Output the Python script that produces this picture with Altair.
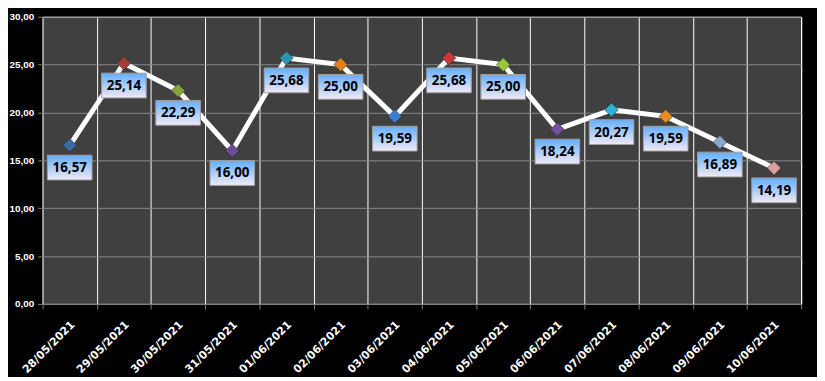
import altair as alt
import pandas as pd

dates = ["28/05/2021", "29/05/2021", "30/05/2021", "31/05/2021", "01/06/2021",
         "02/06/2021", "03/06/2021", "04/06/2021", "05/06/2021", "06/06/2021",
         "07/06/2021", "08/06/2021", "09/06/2021", "10/06/2021"]
values = [16.57, 25.14, 22.29, 16.00, 25.68, 25.00, 19.59, 25.68, 25.00, 18.24,
          20.27, 19.59, 16.89, 14.19]
marker_colors = ["#3a6aa8", "#a83a38", "#84a23c", "#6a4e98", "#2a98b4", "#e2801e",
                 "#3c7ed0", "#c83a3a", "#98c83a", "#7252a2", "#30b4d4", "#ee8a22",
                 "#8ea6c8", "#dca09c"]

df = pd.DataFrame({"date": dates, "value": values, "mcolor": marker_colors})

xenc = alt.X("date:O", sort=dates, title=None,
             scale=alt.Scale(paddingInner=0, paddingOuter=0),
             axis=alt.Axis(tickBand="extent", grid=True, gridColor="#ffffff", gridWidth=1,
                           tickColor="#808080", tickSize=5, domainColor="#808080",
                           labelAngle=-45, labelAlign="right", labelBaseline="middle",
                           labelPadding=14, labelOffset=3, labelColor="#ffffff",
                           labelFont="DejaVu Sans", labelFontWeight="bold", labelFontSize=11))
xs = alt.X("date:O", sort=dates)
yenc = alt.Y("value:Q", title=None,
             scale=alt.Scale(domain=[0, 30], nice=False, zero=True),
             axis=alt.Axis(values=[0, 5, 10, 15, 20, 25, 30], grid=True, gridColor="#8a8a8a",
                           tickColor="#808080", tickSize=5, domainColor="#808080",
                           labelColor="#ffffff", labelFont="Liberation Sans", labelFontWeight="bold",
                           labelFontSize=10, labelPadding=4,
                           labelExpr="replace(format(datum.value, '.2f'), '.', ',')"))

base = alt.Chart(df)

line = base.mark_line(color="#ffffff", strokeWidth=5).encode(x=xenc, y=yenc)
points = base.mark_point(shape="diamond", filled=True, size=190, opacity=1,
                         stroke="#222222", strokeWidth=0.5).encode(
    x=xs, y="value:Q", fill=alt.Fill("mcolor:N", scale=None))

grad = alt.LinearGradient(gradient="linear",
                          stops=[alt.GradientStop(color="#62aefc", offset=0),
                                 alt.GradientStop(color="#f2eaf6", offset=1)],
                          x1=0, x2=0, y1=0, y2=1)
boxes = base.mark_bar(width=45, color=grad, stroke="#a0a0a0", strokeWidth=1,
                      yOffset=10, y2Offset=35, opacity=1).encode(
    x=xs, y="value:Q", y2="value:Q")
labels = base.transform_calculate(
    lab="replace(format(datum.value, '.2f'), '.', ',')"
).mark_text(font="Open Sans", fontWeight="bold", fontSize=13.5, color="#000000",
            baseline="middle", align="center", dy=23).encode(
    x=xs, y="value:Q", text="lab:N")

chart = alt.layer(line, points, boxes, labels).properties(
    width=766, height=290,
    background="#000000",
    padding={"left": 35, "top": 7, "right": 16, "bottom": 72},
    autosize=alt.AutoSizeParams(type="none"),
).configure_view(fill="#404040", stroke="#ffffff", strokeWidth=1)

chart.save("out.html", embed_options={"renderer": "svg", "actions": False})
